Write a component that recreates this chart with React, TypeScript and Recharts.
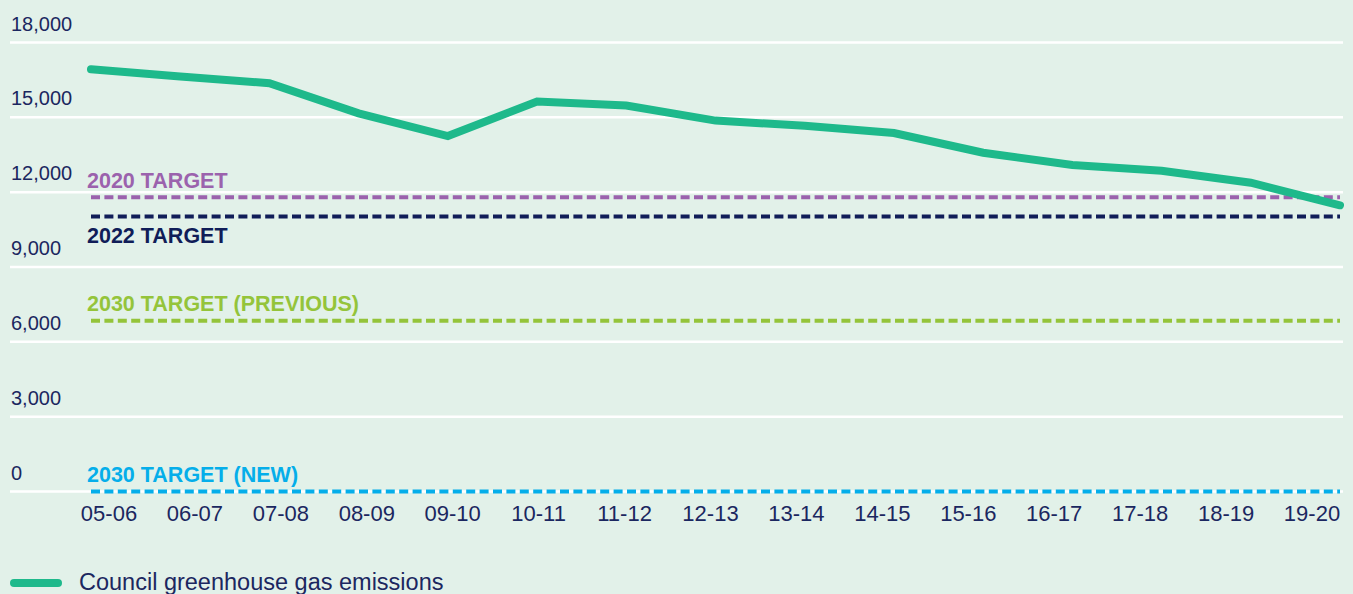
import { LineChart, Line, XAxis, YAxis, CartesianGrid, ReferenceLine } from 'recharts';

const YEARS = ['05-06', '06-07', '07-08', '08-09', '09-10', '10-11', '11-12', '12-13', '13-14', '14-15', '15-16', '16-17', '17-18', '18-19', '19-20'];
const EMISSIONS = [16930, 16640, 16370, 15160, 14250, 15630, 15470, 14870, 14660, 14370, 13580, 13090, 12860, 12380, 11475];
const Y_TICKS = [0, 3000, 6000, 9000, 12000, 15000, 18000];

const TARGET_NAMES = ['2020 TARGET', '2022 TARGET', '2030 TARGET (PREVIOUS)', '2030 TARGET (NEW)'];
const TARGET_VALUES = [11800, 11020, 6850, 0];
const TARGET_COLORS = ['#9b62ad', '#101d58', '#94c43a', '#05aeea'];
const TARGET_LABEL_BELOW = [false, true, false, false];

const NAVY = '#1b2760';
const GREEN = '#1eb98b';
const FONT = '"Liberation Sans", Arial, Helvetica, sans-serif';

const data = YEARS.map((year, i) => ({ year, emissions: EMISSIONS[i] }));

function YTick({ y, payload }: any) {
  return (
    <text x={11} y={y - 12} fill={NAVY} fontSize={20} fontFamily={FONT} textAnchor="start">
      {Number(payload.value).toLocaleString('en-US')}
    </text>
  );
}

function XTick({ x, y, payload }: any) {
  return (
    <text x={x} y={y} dy={29} fill={NAVY} fontSize={22} fontFamily={FONT} textAnchor="middle">
      {payload.value}
    </text>
  );
}

// labels sit just above the dashed line (2022 one goes below)
function targetLabel(name: string, color: string, below: boolean) {
  return (props: any) => {
    const vb = props.viewBox;
    return (
      <text
        x={vb.x - 4}
        y={below ? vb.y + 26 : vb.y - 9.5}
        fill={color}
        fontSize={21.5}
        fontWeight="bold"
        fontFamily={FONT}
      >
        {name}
      </text>
    );
  };
}

export default function App() {
  return (
    <div
      style={{
        position: 'absolute',
        left: 0,
        top: 0,
        width: 1353,
        height: 594,
        background: '#e2f1e9',
        overflow: 'hidden',
        fontFamily: FONT,
      }}
    >
      <LineChart width={1353} height={594} data={data} margin={{ top: 42.5, right: 10, bottom: 72.5, left: 9 }}>
        <CartesianGrid vertical={false} stroke="#ffffff" strokeWidth={2.5} />
        <XAxis dataKey="year" hide height={0} padding={{ left: 81, right: 3 }} />
        <XAxis
          xAxisId="lbl"
          dataKey="year"
          height={30}
          axisLine={false}
          tickLine={false}
          tickSize={0}
          tickMargin={0}
          interval={0}
          padding={{ left: 99, right: 31 }}
          tick={<XTick />}
        />
        <YAxis
          width={1}
          domain={[0, 18000]}
          ticks={Y_TICKS}
          interval={0}
          axisLine={false}
          tickLine={false}
          tickSize={0}
          tickMargin={0}
          tick={<YTick />}
        />
        {TARGET_VALUES.map((v, i) => (
          <ReferenceLine
            key={TARGET_NAMES[i]}
            segment={[
              { x: YEARS[0], y: v },
              { x: YEARS[YEARS.length - 1], y: v },
            ]}
            stroke={TARGET_COLORS[i]}
            strokeWidth={4}
            strokeDasharray="9 4.4"
            label={targetLabel(TARGET_NAMES[i], TARGET_COLORS[i], TARGET_LABEL_BELOW[i])}
          />
        ))}
        <Line
          dataKey="emissions"
          stroke={GREEN}
          strokeWidth={8}
          strokeLinecap="round"
          dot={false}
          activeDot={false}
          isAnimationActive={false}
        />
      </LineChart>
      <div style={{ position: 'absolute', left: 10, top: 579, width: 52, height: 8, borderRadius: 4, background: GREEN }} />
      <div
        style={{
          position: 'absolute',
          left: 79,
          top: 569,
          fontSize: 23.5,
          lineHeight: '27px',
          color: NAVY,
          whiteSpace: 'nowrap',
        }}
      >
        Council greenhouse gas emissions
      </div>
    </div>
  );
}
